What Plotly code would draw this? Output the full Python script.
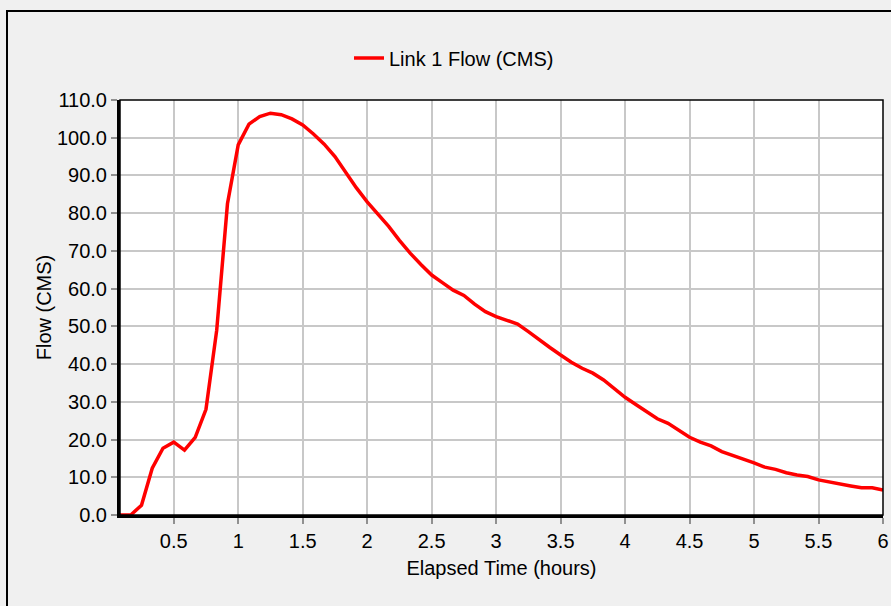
import plotly.graph_objects as go

# Elapsed time (hours), 5-minute reporting steps
time_hours = [
    0.0833, 0.1667, 0.25, 0.3333, 0.4167, 0.5, 0.5833, 0.6667, 0.75, 0.8333, 0.9167, 1.0,
    1.0833, 1.1667, 1.25, 1.3333, 1.4167, 1.5, 1.5833, 1.6667, 1.75, 1.8333, 1.9167, 2.0,
    2.0833, 2.1667, 2.25, 2.3333, 2.4167, 2.5, 2.5833, 2.6667, 2.75, 2.8333, 2.9167, 3.0,
    3.0833, 3.1667, 3.25, 3.3333, 3.4167, 3.5, 3.5833, 3.6667, 3.75, 3.8333, 3.9167, 4.0,
    4.0833, 4.1667, 4.25, 4.3333, 4.4167, 4.5, 4.5833, 4.6667, 4.75, 4.8333, 4.9167, 5.0,
    5.0833, 5.1667, 5.25, 5.3333, 5.4167, 5.5, 5.5833, 5.6667, 5.75, 5.8333, 5.9167, 6.0,
]

# Link 1 flow (CMS)
link1_flow = [
    0.0, 0.0, 2.6, 12.4, 17.7, 19.3, 17.2, 20.6, 28.0, 49.0, 82.5, 98.1,
    103.6, 105.6, 106.5, 106.1, 105.0, 103.4, 101.0, 98.3, 95.0, 90.8, 86.7, 83.0,
    79.8, 76.5, 72.8, 69.4, 66.4, 63.6, 61.6, 59.6, 58.2, 55.9, 53.9, 52.6,
    51.6, 50.6, 48.6, 46.4, 44.4, 42.4, 40.5, 38.9, 37.6, 35.8, 33.4, 31.2,
    29.3, 27.4, 25.5, 24.3, 22.5, 20.6, 19.3, 18.3, 16.8, 15.7, 14.8, 13.8,
    12.7, 12.1, 11.2, 10.6, 10.2, 9.3, 8.7, 8.2, 7.7, 7.2, 7.2, 6.6,
]

x_tick_vals = [0.5, 1, 1.5, 2, 2.5, 3, 3.5, 4, 4.5, 5, 5.5, 6]
x_tick_text = ["0.5", "1", "1.5", "2", "2.5", "3", "3.5", "4", "4.5", "5", "5.5", "6"]
y_tick_vals = [0, 10, 20, 30, 40, 50, 60, 70, 80, 90, 100, 110]
y_tick_text = ["0.0", "10.0", "20.0", "30.0", "40.0", "50.0", "60.0", "70.0", "80.0", "90.0", "100.0", "110.0"]

FONT = "Liberation Sans, Arial, sans-serif"
FS = 20

fig = go.Figure()
fig.add_trace(go.Scatter(
    x=time_hours, y=link1_flow, mode="lines", name="Link 1 Flow (CMS)",
    line=dict(color="#ff0000", width=3.5),
))

W, H = 891, 606
L, R, T, B = 120, 8, 100, 91
pw, ph = W - L - R, H - T - B

def px_to_paper_x(px):
    return (px - L) / pw

def px_to_paper_y(py):
    return (H - B - py) / ph

fig.update_layout(
    width=W, height=H,
    margin=dict(l=L, r=R, t=T, b=B, pad=0, autoexpand=False),
    paper_bgcolor="#f0f0f0",
    plot_bgcolor="#ffffff",
    font=dict(family=FONT, size=FS, color="#000000"),
    showlegend=True,
    legend=dict(
        x=px_to_paper_x(349), y=px_to_paper_y(58), xanchor="left", yanchor="middle",
        orientation="h", bgcolor="rgba(0,0,0,0)", font=dict(size=FS, family=FONT),
    ),
    xaxis=dict(
        range=[0.0833, 6], tickvals=x_tick_vals, ticktext=x_tick_text,
        showgrid=True, gridcolor="#c8c8c8", gridwidth=1.5,
        ticks="outside", ticklen=6, tickcolor="#909090", tickwidth=1.5,
        showline=True, linecolor="#000000", linewidth=3,
        zeroline=False, automargin=False,
        title=dict(text="Elapsed Time (hours)", font=dict(size=FS, family=FONT), standoff=10),
        tickfont=dict(size=FS, family=FONT),
    ),
    yaxis=dict(
        range=[0, 110], tickvals=y_tick_vals, ticktext=y_tick_text,
        showgrid=True, gridcolor="#c8c8c8", gridwidth=1.5,
        ticks="outside", ticklen=6, tickcolor="#909090", tickwidth=1.5,
        showline=True, linecolor="#000000", linewidth=3,
        zeroline=False, automargin=False,
        title=dict(text="Flow (CMS)", font=dict(size=FS, family=FONT), standoff=0),
        tickfont=dict(size=FS, family=FONT),
    ),
    shapes=[
        # thin frame around plot area (top/right)
        dict(type="rect", xref="paper", yref="paper", x0=0, x1=1, y0=0, y1=1,
             line=dict(color="#000000", width=1.5), fillcolor="rgba(0,0,0,0)", layer="above"),
        # outer chart border
        dict(type="rect", xref="paper", yref="paper",
             x0=px_to_paper_x(7), x1=px_to_paper_x(900),
             y0=px_to_paper_y(620), y1=px_to_paper_y(11),
             line=dict(color="#000000", width=2), fillcolor="rgba(0,0,0,0)", layer="above"),
    ],
)

fig.write_html("out.html")
